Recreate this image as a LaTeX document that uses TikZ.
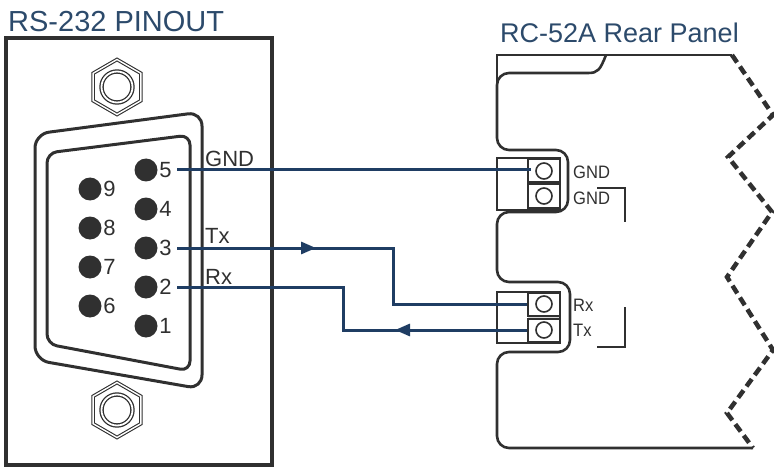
\documentclass[tikz,border=0pt]{standalone}
\usepackage{fontspec}
\setmainfont{Liberation Sans}
\newfontfamily\narrowfont[FakeStretch=0.92]{Liberation Sans}
\usetikzlibrary{arrows.meta,positioning,shapes.geometric}

\definecolor{wireblue}{HTML}{1F3D63}
\definecolor{titleblue}{HTML}{2C4A6B}
\definecolor{linegray}{HTML}{303030}

\begin{document}
\begin{tikzpicture}[x=1pt,y=-1pt,>={Triangle[length=15pt,width=12pt]},
    node distance=39pt,on grid,
    contact/.style={circle,fill=linegray,minimum size=23pt,inner sep=0pt},
    num/.style={font=\fontsize{22}{26}\selectfont,text=linegray,inner sep=1.5pt},
    sig/.style={font=\fontsize{22}{26}\selectfont,text=linegray,anchor=base west,inner sep=0pt},
    heading/.style={font=\fontsize{29}{34}\selectfont,text=titleblue,anchor=base west,inner sep=0pt},
    small/.style={font=\narrowfont\fontsize{18}{20}\selectfont,text=linegray,anchor=west,inner sep=0pt},
    wire/.style={wireblue,line width=3pt},
    frame/.style={linegray,line width=2.6pt},
    nut/.style={draw=linegray,regular polygon,regular polygon sides=6,rotate=30,minimum size=55pt,
      line width=1.1pt,double,double distance=1.4pt,inner sep=0pt},
    ring/.style={draw=linegray,circle,minimum size=31pt,line width=1.3pt,double,double distance=1.8pt,inner sep=0pt},
    screw/.style={draw=linegray,fill=white,line width=2pt,minimum width=32pt,minimum height=23pt,inner sep=0pt,
      path picture={\draw[linegray,line width=1.6pt] (path picture bounding box.center) circle (8pt);}}]
    \useasboundingbox (0,0) rectangle (774,468);

    % RS-232 side
    \node[heading] (lefttitle) at (8,32) {RS-232 PINOUT};
    \draw[frame,line width=3.5pt] (6,38) rectangle (272,465);
    \node[nut] (topnut) at (117,87) {};
    \node[ring] (topring) at (topnut) {};
    \node[nut] (botnut) at (117,410) {};
    \node[ring] (botring) at (botnut) {};
    \draw[frame,line width=3pt,rounded corners=14pt] (35,134) -- (202,112) -- (202,389) -- (35,360) -- cycle;
    \draw[frame,line width=3pt,rounded corners=10pt] (47,153) -- (190,135) -- (190,371) -- (47,344) -- cycle;

    \node[contact,label={[num,name=n5]right:5}] (p5) at (146,170) {};
    \node[contact,label={[num,name=n4]right:4}] (p4) [below=of p5] {};
    \node[contact,label={[num,name=n3]right:3}] (p3) [below=of p4] {};
    \node[contact,label={[num,name=n2]right:2}] (p2) [below=of p3] {};
    \node[contact,label={[num,name=n1]right:1}] (p1) [below=of p2] {};
    \node[contact,label={[num,name=n9]right:9}] (p9) at (90,189) {};
    \node[contact,label={[num,name=n8]right:8}] (p8) [below=of p9] {};
    \node[contact,label={[num,name=n7]right:7}] (p7) [below=of p8] {};
    \node[contact,label={[num,name=n6]right:6}] (p6) [below=of p7] {};

    \node[sig] (gndl) at (205,167) {GND};
    \node[sig] (txl) at (205,243) {Tx};
    \node[sig] (rxl) at (205,284) {Rx};

    % RC-52A side
    \node[heading,font=\fontsize{27}{32}\selectfont] (righttitle) at (500,43) {RC-52A Rear Panel};
    \draw[frame] (732,55) -- (497,55) -- (497,90);
    \draw[frame] (606,55) .. controls (600,70) and (598,73) .. (588,73)
        [rounded corners=12pt] -- (497,73) -- (497,150) -- (568,150) -- (568,212) -- (497,212)
        -- (497,282) -- (570,282) -- (570,352) -- (497,352) -- (497,448) -- (753,448);
    \draw[frame,line width=4.5pt,dash pattern=on 9pt off 5pt]
        (732,55) -- (773,115) -- (728,157) -- (772,212) -- (727,277) -- (773,350) -- (727,413) -- (753,448);

    \draw[frame,line width=1.5pt] (497,158) rectangle (560,210);
    \node[screw] (gnd1) at (544,171) {};
    \node[screw] (gnd2) [below=25pt of gnd1] {};
    \fill[gray!30] (528,292) rectangle (560,343);
    \draw[frame,line width=1.5pt] (497,292) rectangle (560,343);
    \node[screw] (rx) at (544,304) {};
    \node[screw] (tx) [below=26pt of rx] {};

    \node[small] (gndr1) at (573,172) {GND};
    \node[small] (gndr2) at (573,198) {GND};
    \node[small] (rxr) at (573,305) {Rx};
    \node[small] (txr) at (573,330) {Tx};
    \draw[frame,line width=2.6pt] (597,188) -- (625,188) -- (625,222);
    \draw[frame,line width=2.6pt] (625,307) -- (625,347) -- (597,347);

    % wiring
    \coordinate (txdrop) at (393,0);
    \coordinate (txarrow) at (316,0);
    \coordinate (rxrise) at (343,0);
    \coordinate (rxarrow) at (395,0);
    \draw[wire] ([xshift=4pt]n5.east) -- ([xshift=4pt]n5.east -| gnd1.west);
    \draw[wire] ([xshift=4pt]n3.east) -- (n3.east -| txdrop) |- (rx.west);
    \draw[wire,->] ([xshift=4pt]n3.east) -- (n3.east -| txarrow);
    \draw[wire] (tx.west) -- (tx.west -| rxrise) |- ([xshift=4pt]n2.east);
    \draw[wire,->] (tx.west) -- (tx.west -| rxarrow);
\end{tikzpicture}
\end{document}
